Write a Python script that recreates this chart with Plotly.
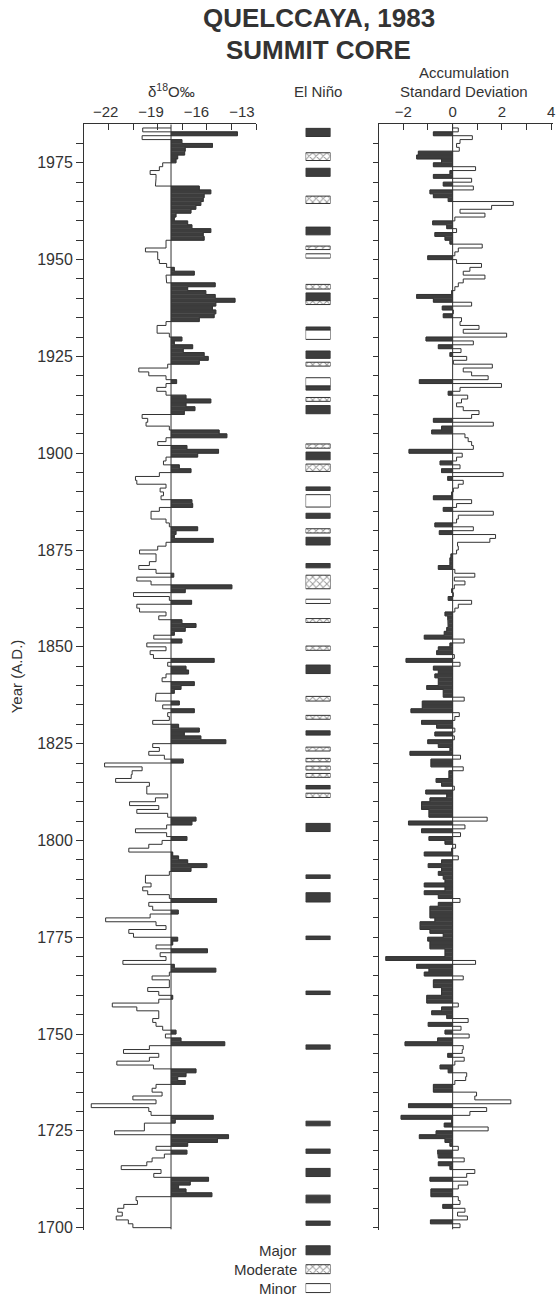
import numpy as np
import plotly.graph_objects as go

W, H = 558, 1310
INK = "#333333"
DARK = "#3d3d3d"
FONT = "Liberation Sans, Arial, Helvetica, sans-serif"

# ---------------- data ----------------
first_year = 1983  # values below run from 1983 down to 1700

# delta-18O (per mil), one value per year
d18o = [
    -19.55, -13.29, -19.59, -16.96, -14.94, -16.74, -16.78, -17.24, -17.35, -18.23,  # 1983-1974
    -18.45, -19.06, -18.67, -18.67, -18.71, -15.81, -15.05, -15.49, -15.55, -15.71,  # 1973-1964
    -16.04, -16.36, -17.35, -17.46, -16.58, -16.30, -15.05, -15.55, -15.49, -18.01,  # 1963-1954
    -18.01, -19.37, -18.56, -18.56, -18.45, -17.97, -17.46, -16.14, -18.01, -17.97,  # 1953-1944
    -14.76, -16.58, -15.38, -14.76, -13.45, -14.72, -14.94, -14.72, -14.83, -15.81,  # 1943-1934
    -18.01, -18.60, -18.60, -17.79, -16.96, -17.46, -16.25, -16.87, -15.49, -15.22,  # 1933-1924
    -15.81, -17.90, -19.81, -19.15, -18.01, -17.31, -18.01, -18.62, -18.01, -16.69,  # 1923-1914
    -15.05, -16.69, -16.10, -16.80, -19.59, -19.22, -19.33, -17.79, -14.50, -13.99,  # 1913-1904
    -18.01, -18.56, -16.63, -14.54, -15.92, -18.01, -18.18, -17.13, -16.36, -18.45,  # 1903-1894
    -20.03, -19.94, -18.01, -18.40, -18.18, -18.34, -16.30, -16.25, -18.45, -19.00,  # 1893-1884
    -19.00, -18.01, -17.79, -15.92, -17.35, -17.46, -14.89, -18.01, -18.56, -19.76,  # 1883-1874
    -18.67, -18.67, -19.11, -19.81, -18.67, -17.50, -19.94, -19.00, -13.66, -16.74,  # 1873-1864
    -20.16, -17.79, -16.32, -19.94, -19.76, -18.01, -18.49, -16.96, -16.03, -16.74,  # 1863-1854
    -17.46, -18.82, -16.96, -19.28, -18.01, -19.06, -18.84, -14.83, -17.90, -16.69,  # 1853-1844
    -16.52, -18.01, -18.27, -16.14, -17.02, -17.46, -18.67, -18.71, -17.13, -18.23,  # 1843-1834
    -16.14, -17.90, -17.79, -18.89, -17.18, -15.81, -16.80, -15.71, -14.06, -18.89,  # 1833-1824
    -18.45, -19.15, -18.12, -16.87, -22.07, -19.59, -20.25, -20.31, -21.34, -19.11,  # 1823-1814
    -19.28, -19.28, -17.90, -18.71, -20.42, -18.49, -19.94, -17.90, -16.03, -16.30,  # 1813-1804
    -17.97, -20.03, -17.97, -16.63, -18.27, -19.15, -20.47, -17.57, -17.18, -16.58,  # 1803-1794
    -15.31, -16.36, -17.79, -19.37, -19.37, -19.00, -19.55, -19.22, -17.79, -14.67,  # 1793-1784
    -19.15, -18.89, -17.20, -19.06, -22.00, -18.67, -18.01, -20.47, -20.16, -17.24,  # 1783-1774
    -17.57, -18.67, -15.27, -18.40, -18.01, -20.86, -17.46, -14.72, -17.79, -18.93,  # 1773-1764
    -17.79, -17.79, -19.22, -18.49, -17.57, -18.49, -21.56, -19.94, -18.49, -18.49,  # 1763-1754
    -18.89, -18.67, -18.23, -17.35, -18.05, -17.02, -14.13, -19.11, -20.82, -18.49,  # 1753-1744
    -19.11, -21.26, -18.84, -16.03, -16.69, -17.24, -16.74, -18.67, -18.93, -18.27,  # 1743-1734
    -20.20, -18.67, -22.95, -19.15, -19.00, -14.89, -17.40, -19.44, -19.44, -21.41,  # 1733-1724
    -13.88, -14.61, -16.58, -18.67, -16.63, -18.12, -18.93, -19.28, -20.97, -18.34,  # 1723-1714
    -18.82, -15.20, -16.41, -17.18, -16.69, -14.98, -19.99, -19.90, -20.80, -21.20,  # 1713-1704
    -20.90, -21.30, -20.50, -20.20,                                                  # 1703-1700
]

# accumulation, standard deviation units, one value per year
accum = [
    0.23, -0.78, 0.80, 0.30, 0.16, 0.27, -1.39, -1.46, -0.45, -0.78,    # 1983-1974
    0.93, -0.11, -0.78, 0.77, -0.38, 0.84, -0.92, -0.78, -0.18, 2.46,   # 1973-1964
    1.58, 0.30, 1.31, 0.09, -0.81, -0.24, 0.16, -0.72, -0.31, -0.11,    # 1963-1954
    1.20, 0.23, 0.09, -1.01, 0.16, 1.17, 0.70, 0.43, 1.31, 0.43,        # 1953-1944
    0.23, 0.09, -0.04, -1.46, -0.78, 0.77, -0.42, 0.03, -0.38, 0.36,    # 1943-1934
    0.30, 1.07, 0.43, 2.19, -1.08, 0.84, -0.58, 0.34, -0.11, 0.57,      # 1933-1924
    0.03, 1.61, 0.43, 0.77, 1.44, -1.35, 1.98, 0.30, -0.18, 0.61,       # 1923-1914
    0.36, 0.16, 0.43, 1.07, 0.77, -0.78, 1.65, -0.45, -0.85, 0.50,      # 1913-1904
    0.63, 0.77, 0.84, -1.77, 0.39, 0.16, -0.51, 0.30, -0.45, 2.05,      # 1903-1894
    -0.20, 0.43, 0.23, 0.03, -0.04, -0.78, 0.77, 0.16, -0.38, 1.65,     # 1893-1884
    0.23, 0.16, -0.72, 0.84, -0.54, 1.74, 1.51, 0.20, 0.23, 0.16,       # 1883-1874
    -0.07, -0.11, -0.11, -0.58, 0.09, 0.90, 0.07, 0.50, 0.07, -0.04,    # 1873-1864
    0.03, -0.18, 0.77, 0.23, 0.09, -0.31, -0.20, -0.18, -0.18, -0.24,   # 1863-1854
    -0.34, -1.15, 0.47, -0.11, -0.58, -0.65, 0.07, -1.89, 0.30, -0.78,  # 1853-1844
    -0.58, -0.72, -0.58, -0.58, -1.05, -0.38, -0.38, 0.47, -1.23, -1.23,  # 1843-1834
    -1.69, 0.27, 0.09, -1.26, -0.65, 0.09, -0.72, 0.07, -1.01, -0.58,   # 1833-1824
    -0.11, -1.73, 0.32, -0.88, -0.88, 0.43, -0.15, -0.15, -0.67, -0.45,  # 1823-1814
    0.07, -1.09, -0.24, -0.92, -1.26, -1.26, -0.96, -0.96, 1.40, -1.79,  # 1813-1804
    0.50, -1.26, 0.32, -0.96, -0.31, 0.12, -0.04, -1.15, 0.23, -0.45,   # 1803-1794
    -0.99, -0.45, -0.58, -0.38, -0.31, -1.15, -0.31, -1.15, -0.58, 0.30,  # 1793-1784
    -0.58, -0.92, -0.92, -0.92, -0.72, -1.32, -1.32, -0.92, -0.38, -1.01,  # 1783-1774
    -0.92, -0.92, -0.31, -0.31, -2.71, 0.93, -1.46, -0.96, -1.15, 0.43,  # 1773-1764
    -0.78, -0.78, -0.45, -0.45, -1.05, -1.05, 0.23, -0.45, -0.85, -0.24,  # 1763-1754
    0.63, -0.99, 0.34, -0.31, 0.67, -0.61, -1.93, 0.43, 0.39, -0.20,    # 1753-1744
    0.47, 0.09, -0.51, -0.18, 0.57, 0.53, 0.09, -0.78, -0.78, 0.97,     # 1743-1734
    0.90, 2.36, -1.79, 1.38, 0.70, -2.09, -0.04, -0.34, 1.44, -0.67,    # 1733-1724
    -1.35, -0.31, -0.11, 0.23, -0.61, -0.58, 0.47, -0.58, -0.11, 0.90,  # 1723-1714
    0.57, -0.92, 0.61, 0.23, -0.88, -0.88, 0.23, 0.30, -0.40, 0.50,     # 1713-1704
    0.20, 0.60, -0.90, 0.30,                                            # 1703-1700
]

# mean delta-18O (vertical reference line of the left panel)
d18o_mean = -17.68

# El Nino events: lower and upper edge (years) and strength
enso_start = [1981.8, 1975.6, 1971.5, 1964.5, 1956.4, 1952.6, 1950.4, 1942.4, 1939.4, 1938.4,
              1931.8, 1929.4, 1924.5, 1922.5, 1917.4, 1916.3, 1913.4, 1910.2, 1901.3, 1898.3,
              1895.3, 1890.4, 1886.1, 1883.2, 1879.4, 1876.3, 1870.4, 1865.0, 1861.2, 1856.3,
              1849.1, 1843.1, 1836.0, 1831.3, 1827.2, 1823.1, 1820.3, 1818.2, 1816.3, 1813.3,
              1811.1, 1802.3, 1790.2, 1784.1, 1774.4, 1760.2, 1746.1, 1726.3, 1719.2, 1713.2,
              1706.4, 1700.6]
enso_end = [1983.9, 1977.6, 1973.6, 1966.4, 1958.4, 1953.5, 1951.5, 1943.6, 1941.4, 1939.4,
            1932.6, 1931.8, 1926.4, 1923.5, 1919.5, 1917.4, 1914.4, 1912.3, 1902.4, 1900.3,
            1897.2, 1891.3, 1889.3, 1884.5, 1880.5, 1878.3, 1871.5, 1868.5, 1862.3, 1857.3,
            1850.2, 1845.3, 1837.2, 1832.3, 1828.3, 1824.1, 1821.2, 1819.2, 1817.3, 1814.2,
            1812.2, 1804.4, 1791.1, 1786.5, 1775.3, 1761.1, 1747.2, 1727.5, 1720.3, 1715.3,
            1708.4, 1701.7]
enso_class = ["Major", "Moderate", "Major", "Moderate", "Major", "Moderate", "Minor", "Moderate", "Major", "Moderate",
              "Major", "Minor", "Major", "Moderate", "Minor", "Major", "Moderate", "Major", "Moderate", "Major",
              "Moderate", "Major", "Minor", "Major", "Moderate", "Major", "Major", "Moderate", "Minor", "Moderate",
              "Moderate", "Major", "Moderate", "Moderate", "Major", "Moderate", "Moderate", "Moderate", "Moderate", "Major",
              "Moderate", "Major", "Major", "Major", "Major", "Major", "Major", "Major", "Major", "Major",
              "Major", "Major"]

legend_labels = ["Major", "Moderate", "Minor"]
d18o_ticks = [-22, -19, -16, -13]
d18o_ticklabels = ["−22", "−19", "−16", "−13"]
acc_ticks = [-2, 0, 2, 4]
acc_ticklabels = ["−2", "0", "2", "4"]
acc_minor_ticks = [-3, -1, 1, 3]
year_ticks = [1700, 1725, 1750, 1775, 1800, 1825, 1850, 1875, 1900, 1925, 1950, 1975]

# ---------------- helpers ----------------
years = np.arange(first_year, first_year - len(d18o), -1)
d18o_a = np.array(d18o)
acc_a = np.array(accum)


def fx(p):
    return p / W


def fy(p):
    return 1 - p / H


Y_LO, Y_HI = 1699.5, 1984.94
Y_DOM = [fy(1236.2), fy(125)]
X1_RANGE = [-23.43, -12.06]
year_minor = list(range(1700, 1985, 5))

styles = {
    "Major": dict(color=DARK, line=dict(color=INK, width=1)),
    "Moderate": dict(color="white", line=dict(color=INK, width=1),
                     pattern=dict(shape="x", fgcolor=INK, bgcolor="white", size=5, solidity=0.35)),
    "Minor": dict(color="white", line=dict(color=INK, width=1)),
}


def step_outline(vals, base):
    xs, ys = [base], [years[0] + 1]
    for v, yr in zip(vals, years):
        xs += [v, v]
        ys += [yr + 1, yr]
    xs.append(base)
    ys.append(years[-1])
    return xs, ys


fig = go.Figure()

# ---- left panel: delta-18O ----
m = d18o_a > d18o_mean
fig.add_trace(go.Bar(orientation="h", y=years[m] + 0.5, x=d18o_a[m] - d18o_mean, base=d18o_mean,
                     width=1, marker=dict(color=DARK, line=dict(color=DARK, width=0.5)),
                     xaxis="x", yaxis="y", showlegend=False, hoverinfo="skip"))
sx, sy = step_outline(d18o_a, d18o_mean)
fig.add_trace(go.Scatter(x=sx, y=sy, mode="lines", line=dict(color=INK, width=1),
                         xaxis="x", yaxis="y", showlegend=False, hoverinfo="skip"))
fig.add_trace(go.Scatter(x=[d18o_mean, d18o_mean], y=[Y_LO, Y_HI], mode="lines",
                         line=dict(color=INK, width=1), xaxis="x", yaxis="y",
                         showlegend=False, hoverinfo="skip"))

# ---- middle panel: El Nino ----
es = np.array(enso_start)
ee = np.array(enso_end)
ec = np.array(enso_class)
for cls in legend_labels:
    k = ec == cls
    fig.add_trace(go.Bar(orientation="h", y=(es[k] + ee[k]) / 2, x=np.ones(k.sum()), base=0,
                         width=ee[k] - es[k], marker=styles[cls], xaxis="x2", yaxis="y",
                         showlegend=False, hoverinfo="skip"))

# ---- right panel: accumulation ----
n = acc_a < 0
fig.add_trace(go.Bar(orientation="h", y=years[n] + 0.5, x=acc_a[n], base=0, width=1,
                     marker=dict(color=DARK, line=dict(color=DARK, width=0.5)),
                     xaxis="x3", yaxis="y2", showlegend=False, hoverinfo="skip"))
ax_, ay_ = step_outline(acc_a, 0.0)
fig.add_trace(go.Scatter(x=ax_, y=ay_, mode="lines", line=dict(color=INK, width=1),
                         xaxis="x3", yaxis="y2", showlegend=False, hoverinfo="skip"))
fig.add_trace(go.Scatter(x=[0, 0], y=[Y_LO, Y_HI], mode="lines", line=dict(color=INK, width=1),
                         xaxis="x3", yaxis="y2", showlegend=False, hoverinfo="skip"))

# ---- legend (drawn as small bars) ----
leg_rows = [53, 34, 15]
for lab, ry in zip(legend_labels, leg_rows):
    fig.add_trace(go.Bar(orientation="h", y=[ry], x=[1], base=0, width=9, marker=styles[lab],
                         xaxis="x4", yaxis="y4", showlegend=False, hoverinfo="skip"))

fig.update_layout(
    width=W, height=H, margin=dict(l=0, r=0, t=0, b=0),
    paper_bgcolor="white", plot_bgcolor="white",
    barmode="overlay", showlegend=False,
    font=dict(family=FONT, color=INK, size=16),
    xaxis=dict(domain=[fx(84.3), fx(257)], range=X1_RANGE, side="top", anchor="y",
               showline=True, linecolor=INK, linewidth=1, showgrid=False, zeroline=False,
               tickvals=d18o_ticks, ticktext=d18o_ticklabels, ticks="",
               minor=dict(tickvals=list(np.linspace(X1_RANGE[0], X1_RANGE[1], 8)),
                          ticks="inside", ticklen=6, tickcolor=INK, showgrid=False),
               tickfont=dict(size=15), fixedrange=True),
    xaxis2=dict(domain=[fx(306.7), fx(331.7)], range=[0, 1], anchor="y", visible=False),
    xaxis3=dict(domain=[fx(380), fx(555)], range=[-3, 4.07], side="top", anchor="y2",
                showline=True, linecolor=INK, linewidth=1, showgrid=False, zeroline=False,
                tickvals=acc_ticks, ticktext=acc_ticklabels, ticks="inside", ticklen=6,
                tickcolor=INK, tickfont=dict(size=15),
                minor=dict(tickvals=acc_minor_ticks, ticks="inside", ticklen=6,
                           tickcolor=INK, showgrid=False)),
    xaxis4=dict(domain=[fx(306.7), fx(331.7)], range=[0, 1], anchor="y4", visible=False),
    yaxis=dict(domain=Y_DOM, range=[Y_LO, Y_HI], anchor="x", side="left",
               showline=True, linecolor=INK, linewidth=1, showgrid=False, zeroline=False,
               tickvals=year_ticks, ticks="outside", ticklen=7,
               tickcolor=INK, tickfont=dict(size=16),
               minor=dict(tickvals=year_minor, ticks="outside", ticklen=7,
                          tickcolor=INK, showgrid=False)),
    yaxis2=dict(domain=Y_DOM, range=[Y_LO, Y_HI], anchor="x3", overlaying="y", side="left",
                showline=True, linecolor=INK, linewidth=1, showgrid=False, zeroline=False,
                tickvals=year_ticks, showticklabels=False, ticks="outside", ticklen=5,
                tickcolor=INK,
                minor=dict(tickvals=year_minor, ticks="outside", ticklen=5,
                           tickcolor=INK, showgrid=False)),
    yaxis4=dict(domain=[0, 65 / H], range=[0, 65], anchor="x4", visible=False),
)

ann = [
    dict(text="<b>QUELCCAYA, 1983</b>", x=fx(320), y=fy(18), size=26),
    dict(text="<b>SUMMIT CORE</b>", x=fx(320), y=fy(50), size=26),
    dict(text="Accumulation", x=fx(466), y=fy(73), size=15),
    dict(text="Standard Deviation", x=fx(466), y=fy(92), size=15),
    dict(text="δ<sup>18</sup>O‰", x=fx(172), y=fy(91), size=15),
    dict(text="El Niño", x=fx(319), y=fy(92), size=15),
]
for a in ann:
    fig.add_annotation(text=a["text"], x=a["x"], y=a["y"], xref="paper", yref="paper",
                       xanchor="center", yanchor="middle", showarrow=False,
                       font=dict(size=a["size"], family=FONT, color=INK))

fig.add_annotation(text="Year (A.D.)", x=fx(16), y=fy(680), xref="paper", yref="paper",
                   textangle=-90, showarrow=False, xanchor="center", yanchor="middle",
                   font=dict(size=15, family=FONT, color=INK))

for lab, ry in zip(legend_labels, leg_rows):
    fig.add_annotation(text=lab, x=fx(300), y=ry, xref="paper", yref="y4", xanchor="right",
                       yanchor="middle", showarrow=False, font=dict(size=15, family=FONT, color=INK))

fig.write_html("out.html")
